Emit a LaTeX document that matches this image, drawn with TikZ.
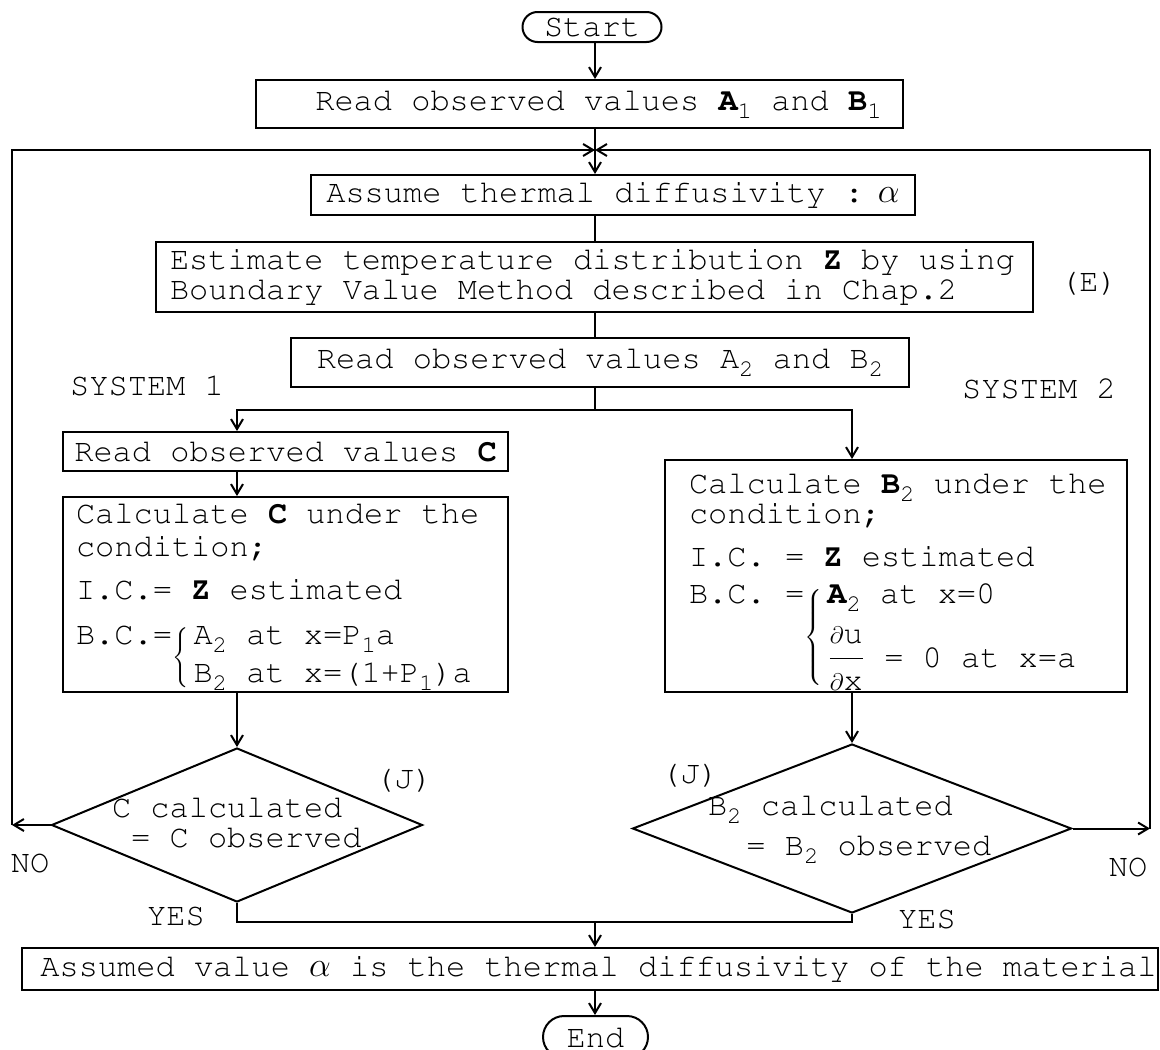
\documentclass[tikz,border=0pt]{standalone}
\usepackage[T1]{fontenc}
\usetikzlibrary{shapes.geometric,shapes.misc,arrows.meta}
\newcommand\flowfont{\fontfamily{pcr}\fontsize{16}{16.5}\selectfont\spaceskip=0pt\xspaceskip=0pt}
\newcommand\lowidx[1]{\raisebox{-.6ex}{\fontsize{12}{12}\selectfont #1}}
\newcommand\bracefor[2]{\smash{\raisebox{-#1}{$\left\{\rule{0pt}{#2}\right.$}}\hspace{1.5pt}}
\newcommand\pd[1]{\hbox{\fontsize{13}{13}\selectfont$\partial$\fontsize{16}{16}\selectfont#1}}
\begin{document}
\begin{tikzpicture}[x=.5pt,y=-.5pt,line width=1pt,>={Straight Barb[length=5pt,width=6pt]},
  every node/.style={font=\flowfont,inner sep=0pt},
  box/.style={draw,rectangle},
  terminal/.style={draw,rounded rectangle},
  decision/.style={draw,diamond}]
\useasboundingbox (0,0) rectangle (1160,1049);
\clip (0,0) rectangle (1160,1049);
\fill[white] (0,0) rectangle (1160,1049);
\coordinate (spine) at (595,0);
\coordinate (join) at (595,150);
\coordinate (loopL) at (12,150);
\coordinate (loopR) at (1150,150);
\coordinate (splitL) at (237,410);
\coordinate (splitR) at (852,410);
\coordinate (yesL) at (237,922);
\coordinate (yesR) at (852,922);
% boxes
\node[terminal,minimum width=69.5pt,minimum height=15pt] (start) at (592,27) {Start};
\node[box,minimum width=323.5pt,minimum height=24pt] (read1) at (579.5,104) {\hspace*{19pt}Read observed values \textbf{A}\lowidx{1} and \textbf{B}\lowidx{1}};
\node[box,minimum width=302pt,minimum height=20pt] (assume) at (613,195) {Assume thermal diffusivity :\hspace{7pt}$\alpha$};
\node[box,align=left,text width=438.5pt,minimum height=35pt] (estimate) at (594.5,277) {\flowfont\hspace*{7pt}Estimate temperature distribution \textbf{Z} by using\\[-1.5pt]\hspace*{7pt}Boundary Value Method described in Chap.2};
\node[box,minimum width=309pt,minimum height=24.5pt] (read2) at (600,362.5) {Read observed values A\lowidx{2} and B\lowidx{2}};
\node[box,minimum width=222.5pt,minimum height=19.5pt] (readc) at (285.5,451.5) {Read observed values \textbf{C}};
\node[box,align=left,text width=222.5pt,minimum height=97.5pt] (calcc) at (285.5,594.5) {\flowfont\rule{0pt}{13pt}\hspace*{6.5pt}Calculate \textbf{C} under the\\
\hspace*{6.5pt}condition;\\[5pt]
\hspace*{6.5pt}I.C.= \textbf{Z} estimated\\[6pt]
\hspace*{6.5pt}B.C.=\bracefor{11.25pt}{17.75pt}\begin{tabular}[t]{@{}l@{}}A\lowidx{2} at x=P\lowidx{1}a\\[2.5pt]B\lowidx{2} at x=(1+P\lowidx{1})a\end{tabular}};
\node[box,align=left,text width=231pt,minimum height=116pt] (calcb) at (896,576) {\flowfont\rule{0pt}{16pt}\hspace*{12pt}Calculate \textbf{B}\lowidx{2} under the\\[-1.5pt]
\hspace*{12pt}condition;\\[5pt]
\hspace*{12pt}I.C. = \textbf{Z} estimated\\[2pt]
\hspace*{12pt}B.C. =\bracefor{21.5pt}{28.5pt}\begin{tabular}[t]{@{}l@{}}\textbf{A}\lowidx{2} at x=0\\[7pt]$\displaystyle\frac{\pd{u}}{\pd{x}}$ = 0 at x=a\end{tabular}};
\node[decision,minimum width=185.5pt,minimum height=77pt] (d1) at (237,825) {};
\node[decision,minimum width=219.5pt,minimum height=84.5pt] (d2) at (852,828.5) {};
\node[anchor=west,align=left] (d1text) at (111,823) {C calculated\\[-1.5pt]\ = C observed};
\node[anchor=west,align=left] (d2text) at (707,829) {B\lowidx{2} calculated\\[3.5pt]\ \ = B\lowidx{2} observed};
\node[box,minimum width=568pt,minimum height=21pt] (final) at (590,969) {\hspace*{8.5pt}Assumed value $\alpha$ is the thermal diffusivity of the material};
\node[terminal,minimum width=52.5pt,minimum height=21pt] (end) at (595.5,1037) {End};
% labels
\node (markE) at (1089,283) {(E)};
\node (sys1) at (147,386) {SYSTEM 1};
\node (sys2) at (1039,389) {SYSTEM 2};
\node (markJa) at (404,780) {(J)};
\node (markJb) at (690,775) {(J)};
\node (noL) at (30,863) {NO};
\node (noR) at (1128,867) {NO};
\node (yesLtxt) at (176,916) {YES};
\node (yesRtxt) at (927,919) {YES};
% connectors
\draw[->] (start.south -| spine) -- (read1.north -| spine);
\draw[->] (read1.south -| spine) -- (assume.north -| spine);
\draw (assume.south -| spine) -- (estimate.north -| spine);
\draw (estimate.south -| spine) -- (read2.north -| spine);
\draw (read2.south -| spine) -- (splitL -| spine);
\draw[->] (splitL -| spine) -- (splitL) -- (readc.north -| splitL);
\draw[->] (splitL -| spine) -- (splitR) -- (calcb.north -| splitR);
\draw[->] (readc.south -| splitL) -- (calcc.north -| splitL);
\draw[->] (calcc.south -| d1.north) -- (d1.north);
\draw[->] (calcb.south -| d2.north) -- (d2.north);
\draw (d1.south) -- (yesL) -- (yesR) -- (d2.south);
\draw[->] (yesL -| spine) -- (final.north -| spine);
\draw[->] (final.south -| spine) -- (end.north -| spine);
\draw[->] (d1.west) -- (d1.west -| loopL);
\draw[->] (d1.west -| loopL) -- (loopL) -- (join);
\draw[->] (d2.east) -- (d2.east -| loopR);
\draw[->] (d2.east -| loopR) -- (loopR) -- (join);
\end{tikzpicture}
\end{document}
